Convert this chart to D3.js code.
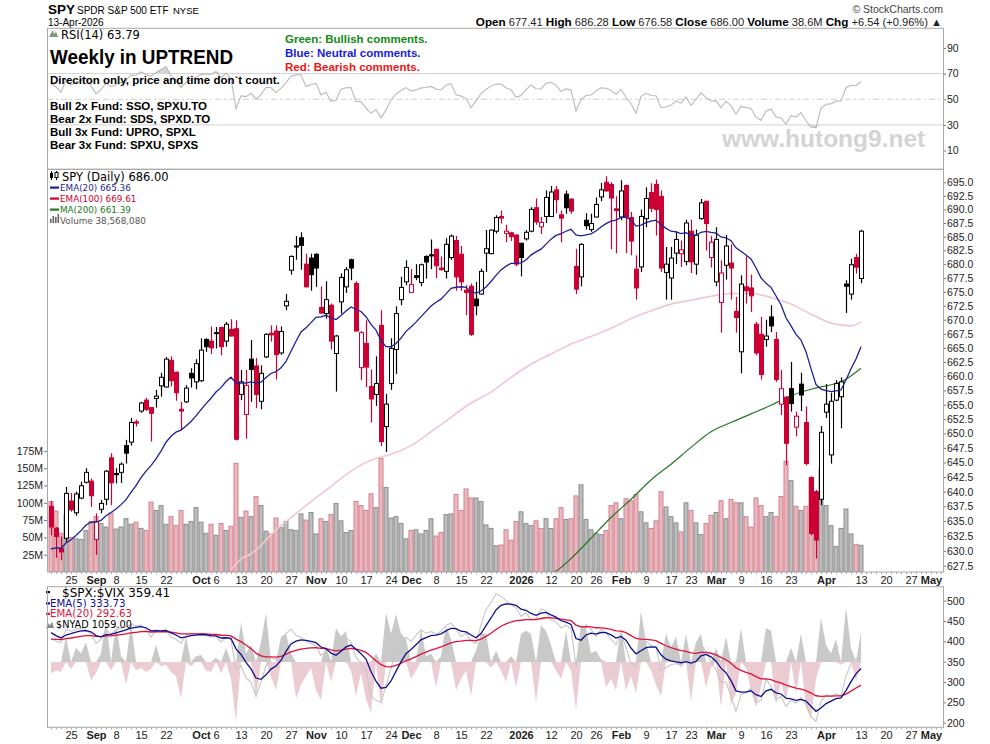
<!DOCTYPE html>
<html>
<head>
<meta charset="utf-8">
<title>SPY daily</title>
<script src="https://cdn.jsdelivr.net/npm/d3@7/dist/d3.min.js"></script>
<style>
body { margin: 0; background: #fff; }
svg { display: block; font-family: "Liberation Sans", Arial, sans-serif; }
.leg { font-family: "DejaVu Sans", sans-serif; }
</style>
</head>
<body>
<svg id="chart" width="990" height="744"></svg>
<script>

// ---- data ----
var firstDay = "2025-08-19";
var holidays = ["2025-09-01", "2025-11-27", "2025-12-25", "2026-01-01", "2026-01-19", "2026-02-16", "2026-04-03"];

var opens = [637.5,633.8,630.4,632.1,638.4,636.4,638.9,641.6,641.8,631.9,637.0,638.7,645.8,643.1,643.3,647.9,648.5,652.0,653.9,655.8,
654.5,656.1,658.3,658.1,662.8,660.7,654.2,655.5,660.5,659.0,659.2,666.5,666.2,667.7,668.6,666.2,668.3,668.4,656.8,653.3,
663.0,661.8,655.6,663.4,667.6,668.0,664.1,672.5,678.9,683.3,684.8,680.0,681.1,681.8,672.2,671.1,672.6,664.0,673.2,675.9,
680.8,676.5,661.5,665.8,658.2,656.8,669.0,651.2,658.7,664.7,673.6,676.8,674.9,677.9,676.7,681.4,681.7,682.7,679.3,678.7,
681.2,684.3,681.8,675.3,676.0,673.7,674.6,682.0,681.9,686.0,688.7,685.6,685.7,685.3,683.8,684.6,686.0,690.3,686.8,688.7,
688.7,693.6,689.0,692.8,691.9,679.6,677.7,688.0,686.3,688.6,692.3,695.0,694.6,690.1,688.6,694.4,688.5,679.1,679.5,688.3,
693.1,694.6,692.4,678.5,677.5,682.0,681.9,680.5,686.0,680.0,688.3,691.5,681.2,676.8,673.1,679.8,680.2,671.5,664.3,675.9,
675.7,669.2,667.4,666.5,670.5,666.5,655.1,656.3,657.8,651.1,658.6,651.9,642.4,640.0,638.7,653.7,646.3,655.8,656.4,676.4,
674.6,681.2,677.41];
var highs = [638.4,634.0,632.4,640.8,639.8,640.0,641.7,644.0,642.2,636.3,638.6,643.7,646.6,644.0,645.0,648.9,652.7,652.4,655.5,656.2,
654.6,657.6,660.6,663.4,663.5,660.8,655.5,658.4,661.4,663.0,666.7,666.7,668.8,668.7,668.8,669.6,670.1,669.9,661.1,661.1,
666.4,663.2,661.9,667.6,669.0,669.0,668.8,674.6,681.6,685.1,685.8,681.9,681.9,682.0,676.0,676.9,672.9,667.3,678.3,679.5,
681.0,676.9,668.0,669.9,661.2,663.5,671.7,656.9,666.7,672.4,677.7,680.7,679.1,680.0,680.1,681.6,684.5,682.8,681.4,684.7,
685.4,685.1,683.3,676.2,676.5,676.8,679.2,686.2,686.3,688.9,689.8,687.2,685.9,685.4,683.9,686.2,690.4,692.0,688.6,693.5,
694.3,694.3,689.8,693.5,692.0,682.8,683.8,689.3,689.2,692.2,694.9,696.1,695.0,692.4,695.4,694.6,689.5,681.6,690.0,694.1,
694.8,695.5,693.5,683.1,683.1,686.0,684.3,688.1,688.1,686.3,691.9,691.6,685.1,686.7,680.7,685.3,683.6,674.1,678.0,681.4,
678.1,669.6,670.5,670.0,672.6,667.8,661.1,656.5,662.5,653.8,660.6,654.7,642.6,640.3,651.3,658.6,657.1,659.3,659.8,677.1,
681.0,681.9,686.28];
var lows = [632.6,628.8,628.4,631.5,636.6,635.9,638.7,641.4,637.4,629.3,636.3,637.7,637.7,641.4,641.5,644.8,647.9,651.2,653.6,653.9,
648.6,654.5,656.4,658.0,658.2,655.7,650.6,655.3,658.0,657.7,659.0,664.3,663.9,664.9,663.7,665.2,667.0,648.8,655.8,649.1,
655.5,654.4,654.2,663.2,666.1,659.4,663.8,671.7,678.1,680.8,679.0,675.8,675.2,675.9,671.1,670.2,664.7,657.3,671.1,674.8,
677.1,667.9,659.3,658.1,651.9,654.8,647.8,646.8,657.6,660.4,672.6,676.2,674.8,677.1,676.0,677.4,679.1,677.5,678.8,677.4,
680.8,675.2,675.2,670.8,667.1,670.8,674.5,678.6,681.8,685.6,687.4,684.0,684.2,679.6,677.8,684.3,685.8,687.2,685.5,687.5,
688.6,689.3,684.0,689.2,689.2,674.6,676.0,686.3,685.9,688.5,691.5,693.3,682.7,682.0,688.0,682.0,681.6,673.6,678.6,686.7,
689.5,685.2,678.6,673.6,673.6,680.0,679.5,679.8,678.4,678.1,688.1,682.5,679.4,676.0,667.7,677.2,673.6,667.7,660.5,672.9,
671.4,663.7,659.4,665.2,667.8,659.0,653.2,644.5,653.8,649.5,653.9,644.5,632.6,628.7,637.7,652.7,644.8,655.6,650.9,671.2,
673.6,678.3,676.58];
var closes = [634.0,632.4,629.8,639.7,636.9,639.6,641.0,643.3,639.3,634.9,638.0,643.5,641.5,642.9,644.7,646.6,651.9,651.8,655.3,654.2,
653.5,656.5,659.8,663.0,659.2,657.1,653.9,657.9,659.7,662.2,664.6,665.2,665.0,667.6,665.2,669.2,667.1,649.0,659.0,658.4,
661.2,656.8,660.5,667.4,667.3,663.8,667.9,673.3,681.4,683.2,683.4,675.9,678.1,679.3,671.2,673.6,666.2,667.1,677.6,679.0,
679.3,668.0,667.7,661.6,656.0,658.7,648.6,655.1,664.9,671.1,675.8,679.4,676.3,677.6,679.9,680.4,681.5,679.7,679.0,683.6,
685.1,677.7,676.8,674.9,667.4,672.5,678.7,682.8,686.2,688.5,688.4,686.0,685.0,680.0,681.2,685.8,690.0,687.7,687.6,692.2,
693.2,691.8,688.4,690.3,689.7,675.5,683.6,687.0,687.4,690.9,693.6,693.4,692.1,689.8,693.4,688.6,684.2,675.7,688.7,692.0,
690.2,690.0,679.3,680.0,681.1,684.5,682.6,687.5,680.4,685.3,691.2,687.4,684.0,684.5,678.4,683.3,679.3,670.4,676.4,675.2,
674.3,664.1,660.3,667.1,668.9,659.4,657.8,648.3,655.2,653.0,656.7,644.8,632.9,631.8,650.2,655.1,655.6,658.7,659.0,676.0,
679.9,679.46,686.00];
// millions of shares
var volumes = [102,88,56,83,50,48,47,60,73,80,70,65,85,62,65,77,69,72,63,60,
101,89,96,69,80,67,89,69,73,93,72,56,69,53,70,60,66,157,79,88,
80,109,96,59,55,78,64,73,61,60,84,75,86,55,77,73,83,99,74,57,
60,102,96,89,113,93,164,122,78,80,70,48,60,61,55,60,77,52,57,83,
84,112,89,120,107,107,102,68,63,38,39,61,46,73,87,70,67,74,63,77,
63,77,93,76,77,110,126,76,61,56,54,60,96,100,77,106,103,112,87,71,
63,74,116,94,80,71,58,100,89,71,54,70,82,86,103,77,105,100,100,80,
65,107,96,80,86,80,109,160,132,95,89,95,136,115,150,96,67,37,63,91,
55,40,38.57];
var priorClose = 638.0;          // session before the first bar

// [bar, value]
var ema100Pts = [[36,626.8],[38,628.6],[40,629.5],[42,630.9],[44,632.7],[48,635.6],[52,638.3],[56,640.9],[60,643.5],[64,645.4],
[68,646.4],[72,647.9],[76,650.3],[80,652.8],[84,655.3],[88,657.2],[92,659.8],[96,662.1],[100,663.9],[104,665.7],[108,667.0],
[112,668.5],[116,670.2],[120,671.6],[124,672.8],[128,673.5],[132,674.2],[136,674.7],[140,674.7],[144,674.0],[148,672.8],
[152,671.0],[156,669.4],[160,668.9],[162,669.61]];
var ma200Pts = [[100,626.2],[101,626.6],[104,628.7],[108,632.1],[112,635.6],[116,638.7],[120,642.0],[124,644.7],[128,647.6],
[132,650.3],[136,651.9],[140,653.4],[144,654.9],[148,656.6],[152,657.7],[156,658.5],[158,659.0],[162,661.39]];

// $SPX:$VIX ratio and $NYAD, lower panel
var spxVix = [408,400,397,430,425,430,432,428,418,395,405,428,418,428,432,436,441,438,440,428,
410,428,425,428,410,405,395,415,420,418,420,415,410,412,398,410,404,330,340,310,
300,265,300,340,360,355,380,420,430,415,410,400,395,390,365,375,348,355,395,408,
400,360,348,330,265,255,250,290,335,375,395,410,400,415,428,420,424,418,425,440,
445,430,412,420,400,395,440,478,495,517,511,500,490,483,461,470,453,455,480,475,
453,448,433,440,430,338,395,441,430,412,430,421,405,392,420,385,345,340,392,400,
390,385,329,335,343,345,343,355,340,359,392,375,350,330,300,300,265,228,269,275,
285,250,255,306,290,256,265,240,255,248,262,245,215,203,252,269,265,271,265,315,
345,358,359.41];
var nyad = [-400,-300,-350,900,-250,500,300,700,-650,-400,300,1450,-300,1350,200,-800,1400,-300,-200,-350,
-250,600,-150,-100,-350,-500,-1300,900,-150,200,250,-300,-350,150,-400,500,-600,-2100,1400,300,
600,-1300,700,1750,-500,-1000,900,1000,300,-1300,-800,-500,-200,-1000,-1350,600,-700,1200,900,1100,
-300,-1200,-400,-1300,-1800,300,-1600,1750,1000,1700,1000,800,-600,-300,1200,200,300,-900,200,1300,
800,-1000,-600,-300,-1200,400,1000,1000,-200,400,-300,-700,200,-900,1000,1100,1000,-1400,1300,1100,
600,-300,-600,1100,-300,-1700,1300,1200,300,400,100,-900,-600,-1000,1200,-1000,-500,-1100,1800,700,
-300,-800,-1200,1000,500,900,-200,1000,-1400,700,1000,-900,-200,500,-1600,900,-1500,-1100,1200,-200,
-1000,-1600,-900,1200,1100,-1500,-700,-1400,500,-1100,1000,-1600,-2000,-600,1550,600,300,800,-100,1950,
500,-650,1059];

// starting values of the running indicators, taken from the left edge
var ema20Seed = 629.9;
var rsiSeedGain = 1.9, rsiSeedLoss = 0.85;
var ratioEma5Seed = 428, ratioEma20Seed = 405;

var xTicks = [["2025-08-25","25"],["2025-09-02","Sep"],["2025-09-08","8"],["2025-09-15","15"],["2025-09-22","22"],
["2025-10-01","Oct"],["2025-10-06","6"],["2025-10-13","13"],["2025-10-20","20"],["2025-10-27","27"],["2025-11-03","Nov"],
["2025-11-10","10"],["2025-11-17","17"],["2025-11-24","24"],["2025-12-01","Dec"],["2025-12-08","8"],["2025-12-15","15"],
["2025-12-22","22"],["2026-01-02","2026"],["2026-01-12","12"],["2026-01-20","20"],["2026-01-26","26"],["2026-02-02","Feb"],
["2026-02-09","9"],["2026-02-17","17"],["2026-02-23","23"],["2026-03-02","Mar"],["2026-03-09","9"],["2026-03-16","16"],
["2026-03-23","23"],["2026-04-01","Apr"],["2026-04-13","13"],["2026-04-20","20"],["2026-04-27","27"],["2026-05-01","May"]];
var priceTicks = [627.5,630,632.5,635,637.5,640,642.5,645,647.5,650,652.5,655,657.5,660,662.5,665,667.5,670,672.5,675,
677.5,680,682.5,685,687.5,690,692.5,695];
var volTicks = [25,50,75,100,125,150,175];
var rsiTicks = [10,30,50,70,90];
var lowTicks = [200,250,300,350,400,450,500];

// ---- layout ----
var L = 47, R = 943;
var rsiTop = 28.3, rsiBot = 169.3;
var mainTop = 169.3, mainBot = 572;
var lowTop = 586.7, lowBot = 727.3;
var red = "#cc0033";

var svg = d3.select("#chart");

function tradingDays(start, n) {
    var out = [], d = new Date(start + "T12:00:00Z");
    while (out.length < n) {
        var wd = d.getUTCDay(), s = d.toISOString().slice(0, 10);
        if (wd != 0 && wd != 6 && holidays.indexOf(s) < 0) out.push(s);
        d.setUTCDate(d.getUTCDate() + 1);
    }
    return out;
}
var days = tradingDays(firstDay, 182);

function ema(vals, n, seed) {
    var k = 2 / (n + 1), e = seed;
    return vals.map(function(v){ e = e + (v - e) * k; return e; });
}
function rsi(vals, prev, g0, l0) {
    var ag = g0, al = l0, last = prev;
    return vals.map(function(v){
        var d = v - last; last = v;
        ag = (ag * 13 + Math.max(d, 0)) / 14;
        al = (al * 13 + Math.max(-d, 0)) / 14;
        return 100 - 100 / (1 + ag / al);
    });
}
function prevClose(i){ return i == 0 ? priorClose : closes[i - 1]; }

var x = d3.scaleLinear().domain([-0.8, 178.4]).range([L, R]);
var y = d3.scaleLog().domain([626.44, 697.41]).range([mainBot, mainTop]);
var yVol = d3.scaleLinear().domain([0, 582]).range([mainBot, mainTop]);
var yRsi = d3.scaleLinear().domain([-4.6, 105.3]).range([rsiBot, rsiTop]);
var yLow = d3.scaleLinear().domain([188.7, 534.4]).range([lowBot, lowTop]);
var yAd = d3.scaleLinear().domain([-2307, 2660]).range([lowBot, lowTop]);

var defs = svg.append("defs");
function clip(id, y0, y1) {
    defs.append("clipPath").attr("id", id).append("rect")
        .attr("x", L).attr("y", y0).attr("width", R - L).attr("height", y1 - y0);
}
clip("cRsi", rsiTop, rsiBot);
clip("cMain", mainTop, mainBot);
clip("cLow", lowTop, lowBot);

function styleAxis(g) {
    g.attr("font-family", "Liberation Sans, Arial, sans-serif").attr("font-size", 10.5);
    g.select(".domain").remove();
    g.selectAll(".tick line").attr("stroke", "#777");
    g.selectAll(".tick text").attr("fill", "#222");
}

// ---- header ----
svg.append("text").attr("x", 48).attr("y", 14).attr("font-size", 13.5).attr("font-weight", "bold").text("SPY");
svg.append("text").attr("x", 77).attr("y", 13.5).attr("font-size", 10).text("SPDR S&P 500 ETF");
svg.append("text").attr("x", 173).attr("y", 13.5).attr("font-size", 9.5).text("NYSE");
svg.append("text").attr("x", 48).attr("y", 25.5).attr("font-size", 10).text("13-Apr-2026");
svg.append("text").attr("x", R).attr("y", 13).attr("font-size", 10.5).attr("fill", "#444")
    .attr("text-anchor", "end").text("\u00A9 StockCharts.com");

var quote = [["Open", " 677.41 "], ["High", " 686.28 "], ["Low", " 676.58 "], ["Close", " 686.00 "],
             ["Volume", " 38.6M "], ["Chg", " +6.54 (+0.96%) \u25B2"]];
var qt = svg.append("text").attr("x", R - 1).attr("y", 26).attr("text-anchor", "end").attr("font-size", 11.1);
quote.forEach(function(q){
    qt.append("tspan").attr("font-weight", "bold").attr("font-size", 11.7).text(q[0]);
    qt.append("tspan").attr("fill", "#222").text(q[1]);
});

// ---- RSI panel ----
var rsiVals = rsi(closes, priorClose, rsiSeedGain, rsiSeedLoss);
var gR = svg.append("g").attr("clip-path", "url(#cRsi)");
[70, 30].forEach(function(v){
    gR.append("line").attr("x1", L).attr("x2", R).attr("y1", yRsi(v)).attr("y2", yRsi(v))
        .attr("stroke", "#d2d2d2");
});
gR.append("line").attr("x1", L).attr("x2", R).attr("y1", yRsi(50)).attr("y2", yRsi(50))
    .attr("stroke", "#cfcfcf").attr("stroke-dasharray", "6,3,2,3");
gR.append("path").datum(rsiVals)
    .attr("d", d3.area().x(function(d, i){ return x(i); }).y0(yRsi(70))
        .y1(function(d){ return yRsi(Math.max(d, 70)); }))
    .attr("fill", "#d6d6d6");
gR.append("path").datum(rsiVals)
    .attr("d", d3.area().x(function(d, i){ return x(i); }).y0(yRsi(30))
        .y1(function(d){ return yRsi(Math.min(d, 30)); }))
    .attr("fill", "#d6d6d6");
gR.append("path").datum(rsiVals)
    .attr("d", d3.line().x(function(d, i){ return x(i); }).y(function(d){ return yRsi(d); }))
    .attr("fill", "none").attr("stroke", "#b9b9b9").attr("stroke-width", 1.1);

svg.append("g").attr("transform", "translate(" + R + ",0)")
    .call(d3.axisRight(yRsi).tickValues(rsiTicks).tickSize(3).tickPadding(1))
    .call(styleAxis);

// overlay notes
svg.append("text").attr("x", 50).attr("y", 63.5).attr("font-size", 21).attr("font-weight", "bold")
    .attr("textLength", 183).attr("lengthAdjust", "spacingAndGlyphs").text("Weekly in UPTREND");
var notes = [["Green: Bullish comments.", "#138a13", 42.5], ["Blue: Neutral comments.", "#1a1ae6", 56.7],
             ["Red: Bearish comments.", "#ee1515", 70.7]];
notes.forEach(function(n){
    svg.append("text").attr("x", 285).attr("y", n[2]).attr("font-size", 11.5).attr("font-weight", "bold")
        .attr("fill", n[1]).text(n[0]);
});
var fundLines = [["Direciton only, price and time don`t count.", 83.8], ["Bull 2x Fund: SSO, SPXU.TO", 110.2],
                 ["Bear 2x Fund: SDS, SPXD.TO", 123.2], ["Bull 3x Fund: UPRO, SPXL", 136.2],
                 ["Bear 3x Fund: SPXU, SPXS", 149.2]];
fundLines.forEach(function(f){
    svg.append("text").attr("x", 50).attr("y", f[1]).attr("font-size", 11.5).attr("font-weight", "bold").text(f[0]);
});
svg.append("text").attr("x", 722).attr("y", 146.5).attr("font-size", 24.5).attr("font-weight", "bold")
    .attr("fill", "#d4d4d4").text("www.hutong9.net");

svg.append("path").attr("d", "M49,37 L52.5,30.5 L54.5,34 L56,31.5 L58,37 Z").attr("fill", "#7a9a7a");
svg.append("text").attr("class", "leg").attr("x", 61).attr("y", 38.5).attr("font-size", 11.5)
    .text("RSI(14) 63.79");

// ---- price panel ----
var gM = svg.append("g").attr("clip-path", "url(#cMain)");

// volume behind price
gM.selectAll("rect.vol").data(volumes).enter().append("rect").attr("class", "vol")
    .attr("x", function(d, i){ return x(i) - 2; })
    .attr("y", function(d){ return yVol(d); })
    .attr("width", 4)
    .attr("height", function(d){ return mainBot - yVol(d); })
    .attr("fill", function(d, i){ return closes[i] < prevClose(i) ? "#e9b9c1" : "#bdbdbd"; })
    .attr("stroke", function(d, i){ return closes[i] < prevClose(i) ? "#d7808c" : "#8d8d8d"; })
    .attr("stroke-width", 1);

var ptLine = d3.line().curve(d3.curveMonotoneX)
    .x(function(d){ return x(d[0]); }).y(function(d){ return y(d[1]); });
gM.append("path").datum(ema100Pts).attr("d", ptLine)
    .attr("fill", "none").attr("stroke", "#f1c7ce").attr("stroke-width", 1.6);
gM.append("path").datum(ma200Pts).attr("d", ptLine)
    .attr("fill", "none").attr("stroke", "#237a23").attr("stroke-width", 1.2);

// candles
var gC = gM.append("g");
closes.forEach(function(c, i){
    var o = opens[i];
    var col = c >= prevClose(i) ? "#000" : red;
    var cx = Math.round(x(i)) + 0.5;
    gC.append("line").attr("x1", cx).attr("x2", cx).attr("y1", y(highs[i])).attr("y2", y(lows[i]))
        .attr("stroke", col).attr("stroke-width", 1.2);
    var top = y(Math.max(o, c)), bot = y(Math.min(o, c));
    gC.append("rect").attr("x", cx - 2).attr("y", top).attr("width", 4).attr("height", Math.max(bot - top, 1))
        .attr("fill", c > o ? "#fff" : col).attr("stroke", col).attr("stroke-width", 1);
});

var ema20 = ema(closes, 20, ema20Seed);
gM.append("path").datum(ema20)
    .attr("d", d3.line().x(function(d, i){ return x(i); }).y(function(d){ return y(d); }))
    .attr("fill", "none").attr("stroke", "#1f1f96").attr("stroke-width", 1.3);

svg.append("g").attr("transform", "translate(" + R + ",0)")
    .call(d3.axisRight(y).tickValues(priceTicks).tickSize(3).tickPadding(1).tickFormat(d3.format(".1f")))
    .call(styleAxis);
svg.append("g").attr("transform", "translate(" + L + ",0)")
    .call(d3.axisLeft(yVol).tickValues(volTicks).tickSize(3).tickPadding(1)
        .tickFormat(function(d){ return d + "M"; }))
    .call(styleAxis);

// legend
svg.append("g").attr("fill", "#000").call(function(g){
    g.append("line").attr("x1", 51.5).attr("x2", 51.5).attr("y1", 171).attr("y2", 180).attr("stroke", "#000");
    g.append("rect").attr("x", 50).attr("y", 173).attr("width", 3).attr("height", 5);
    g.append("line").attr("x1", 56.5).attr("x2", 56.5).attr("y1", 171).attr("y2", 180).attr("stroke", "#000");
    g.append("rect").attr("x", 55).attr("y", 172.5).attr("width", 3).attr("height", 5).attr("fill", "#fff").attr("stroke", "#000");
});
svg.append("text").attr("class", "leg").attr("x", 62).attr("y", 180.5).attr("font-size", 11.5).text("SPY (Daily) 686.00");
var mainLeg = [["EMA(20) 665.36", "#1f1f96", 191], ["EMA(100) 669.61", red, 202], ["MA(200) 661.39", "#237a23", 213]];
mainLeg.forEach(function(m){
    svg.append("rect").attr("x", 50).attr("y", m[2] - 4.5).attr("width", 9).attr("height", 2.2).attr("fill", m[1]);
    svg.append("text").attr("class", "leg").attr("x", 60).attr("y", m[2]).attr("font-size", 8.8)
        .attr("fill", m[1]).text(m[0]);
});
[0, 1, 2, 3].forEach(function(k){
    svg.append("rect").attr("x", 50 + k * 2.5).attr("y", 217 + (k % 2 ? 0 : 2) - k).attr("width", 1.6)
        .attr("height", 6 - (k % 2 ? 0 : 2) + k).attr("fill", "#666");
});
svg.append("text").attr("class", "leg").attr("x", 60).attr("y", 223.5).attr("font-size", 8.8)
    .attr("fill", "#555").text("Volume 38,568,080");

// ---- lower panel ----
var gL = svg.append("g").attr("clip-path", "url(#cLow)");
var ix = function(d, i){ return x(i); };
gL.append("path").datum(nyad)
    .attr("d", d3.area().x(ix).y0(yAd(0)).y1(function(d){ return yAd(Math.max(d, 0)); }))
    .attr("fill", "#c9c9c9");
gL.append("path").datum(nyad)
    .attr("d", d3.area().x(ix).y0(yAd(0)).y1(function(d){ return yAd(Math.min(d, 0)); }))
    .attr("fill", "#ecccd3");
var lowLine = d3.line().x(ix).y(function(d){ return yLow(d); });
gL.append("path").datum(spxVix).attr("d", lowLine)
    .attr("fill", "none").attr("stroke", "#c6c6c6").attr("stroke-width", 1.1);
gL.append("path").datum(ema(spxVix, 20, ratioEma20Seed)).attr("d", lowLine)
    .attr("fill", "none").attr("stroke", "#e0103c").attr("stroke-width", 1.3);
gL.append("path").datum(ema(spxVix, 5, ratioEma5Seed)).attr("d", lowLine)
    .attr("fill", "none").attr("stroke", "#10108e").attr("stroke-width", 1.3);

svg.append("g").attr("transform", "translate(" + R + ",0)")
    .call(d3.axisRight(yLow).tickValues(lowTicks).tickSize(3).tickPadding(1))
    .call(styleAxis);

svg.append("rect").attr("x", 46).attr("y", 591).attr("width", 4).attr("height", 2.2).attr("fill", "#000");
svg.append("text").attr("class", "leg").attr("x", 62).attr("y", 596.5).attr("font-size", 12)
    .text("$SPX:$VIX 359.41");
var lowLeg = [["EMA(5) 333.73", "#10108e", 606.8], ["EMA(20) 292.63", "#e0103c", 617.3]];
lowLeg.forEach(function(m){
    svg.append("rect").attr("x", 46).attr("y", m[2] - 4.5).attr("width", 4).attr("height", 2.2).attr("fill", m[1]);
    svg.append("text").attr("class", "leg").attr("x", 50).attr("y", m[2]).attr("font-size", 10.2)
        .attr("fill", m[1]).text(m[0]);
});
svg.append("path").attr("d", "M46,628 L48,623 L50,625.5 L52,621.5 L54,628 Z").attr("fill", "#888");
svg.append("text").attr("class", "leg").attr("x", 56).attr("y", 628).attr("font-size", 9.7).text("$NYAD 1059.00");

// ---- time axes ----
var tickIdx = xTicks.map(function(t){ return days.indexOf(t[0]); });
function timeAxis(yy) {
    var g = svg.append("g").attr("transform", "translate(0," + yy + ")")
        .call(d3.axisBottom(x).tickValues(tickIdx).tickSize(0).tickPadding(4)
            .tickFormat(function(d, k){ return xTicks[k][1]; }))
        .call(styleAxis);
    g.attr("font-size", 11);
    g.selectAll(".tick text").attr("font-weight", function(d, k){
        var s = xTicks[k][1];
        return (isNaN(+s) || s.length == 4) ? "bold" : "normal";
    });
    // small day marks
    g.selectAll("line.day").data(d3.range(0, 179)).enter().append("line").attr("class", "day")
        .attr("x1", function(d){ return Math.round(x(d)) + 0.5; })
        .attr("x2", function(d){ return Math.round(x(d)) + 0.5; })
        .attr("y1", 0).attr("y2", 2).attr("stroke", "#aaa");
}
timeAxis(mainBot);
timeAxis(lowBot);

// panel frames
[[rsiTop, rsiBot], [mainTop, mainBot], [lowTop, lowBot]].forEach(function(p){
    svg.append("rect").attr("x", L + 0.5).attr("y", p[0]).attr("width", R - L).attr("height", p[1] - p[0])
        .attr("fill", "none").attr("stroke", "#a9a9a9").attr("stroke-width", 1);
});

</script>
</body>
</html>
